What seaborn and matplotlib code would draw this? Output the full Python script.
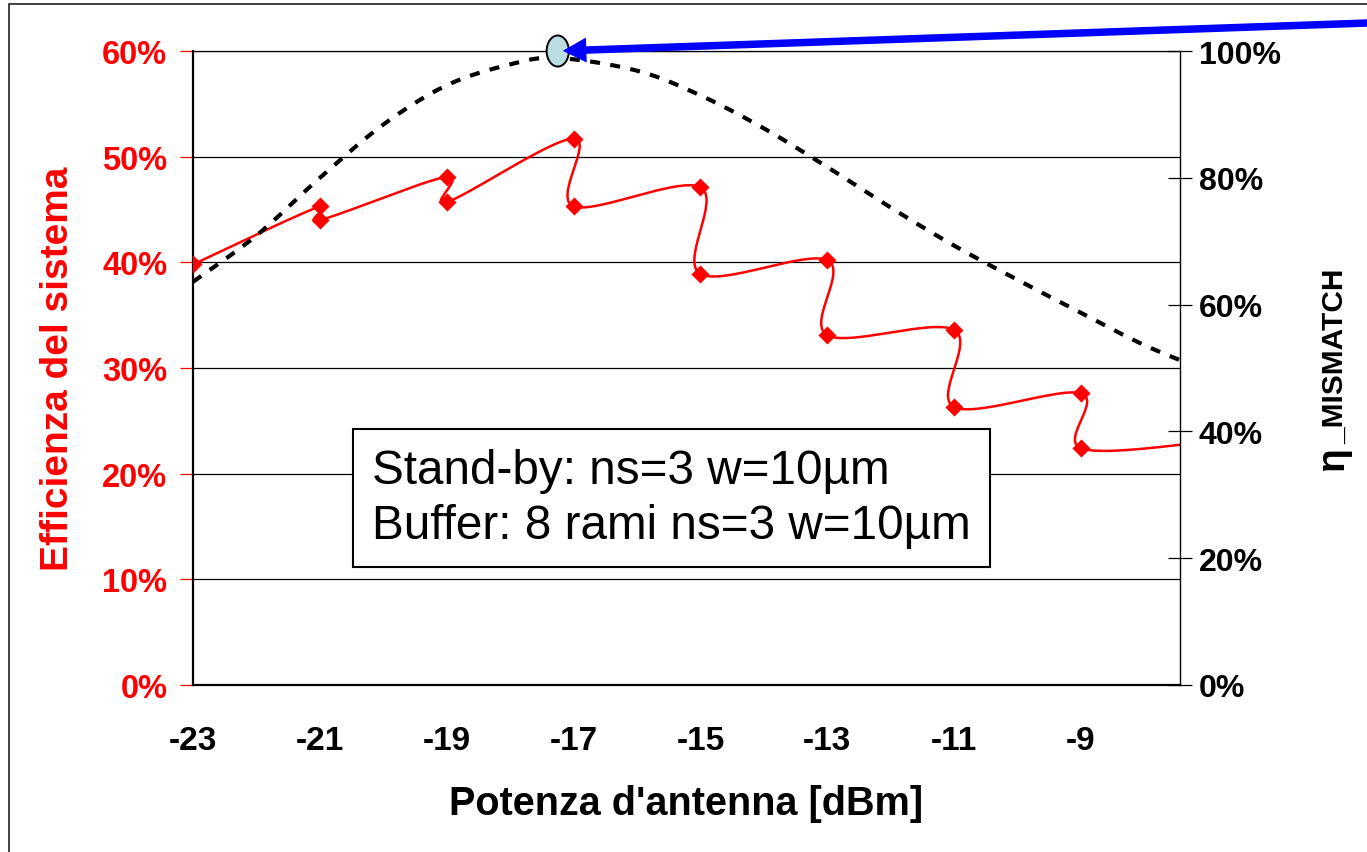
import numpy as np
import matplotlib
matplotlib.use('Agg')
import matplotlib.pyplot as plt
import seaborn as sns
from matplotlib.patches import Ellipse, Rectangle

# --- data ---
pot_dbm = [-23, -21, -21, -19, -19, -17, -17, -15, -15, -13, -13, -11, -11, -9, -9, -7]
eff_sistema = [39.8, 45.3, 44.0, 48.1, 45.7, 51.7, 45.3, 47.1, 38.9, 40.2, 33.1, 33.6, 26.3, 27.6, 22.4, 23.0]

eta_dbm = [-23, -22, -21, -20, -19, -18, -17.25, -16, -15, -14, -13, -12, -11, -10, -9, -8, -7]
eta_mismatch = [63.6, 70.9, 80.0, 88.4, 94.6, 97.9, 98.9, 96.9, 93.0, 87.8, 81.7, 75.3, 69.3, 63.9, 58.7, 53.6, 49.5]

x_ticks = [-23, -21, -19, -17, -15, -13, -11, -9]
left_ticks = [0, 10, 20, 30, 40, 50, 60]
right_ticks = [0, 20, 40, 60, 80, 100]
box_lines = ["Stand-by: ns=3 w=10µm", "Buffer: 8 rami ns=3 w=10µm"]

RED = '#FF0000'
BLUE = '#0000FF'


def excel_smooth(xs, ys, n=40):
    # bezier smoothing like the spreadsheet "smoothed line" option
    p = np.column_stack([xs, ys]).astype(float)
    p = np.vstack([p[0], p, p[-1]])
    t = np.linspace(0, 1, n)[:, None]
    out = []
    for i in range(1, len(p) - 2):
        p0, p1, p2, p3 = p[i - 1], p[i], p[i + 1], p[i + 2]
        c1 = p1 + (p2 - p0) / 6
        c2 = p2 - (p3 - p1) / 6
        seg = (1 - t) ** 3 * p1 + 3 * (1 - t) ** 2 * t * c1 + 3 * (1 - t) * t ** 2 * c2 + t ** 3 * p2
        out.append(seg if i == 1 else seg[1:])
    out = np.vstack(out)
    return out[:, 0], out[:, 1]


sns.set_style('white')
plt.rcParams['font.family'] = ['Liberation Sans', 'DejaVu Sans']
plt.rcParams['text.color'] = 'black'

fig = plt.figure(figsize=(13.67, 8.53), dpi=100)
ax = fig.add_axes([0.1412, 0.1958, 0.7220, 0.7432])

# red series: system efficiency
sx, sy = excel_smooth(pot_dbm, eff_sistema)
sns.lineplot(x=sx, y=sy, sort=False, estimator=None, color=RED, lw=1.8, ax=ax, zorder=3)
sns.scatterplot(x=pot_dbm, y=eff_sistema, marker='D', s=85, color=RED, linewidth=0, ax=ax, zorder=4)

ax.set_xlim(-23, -7.44)
ax.set_ylim(0, 60)
ax.set_xticks(x_ticks, labels=[str(v) for v in x_ticks])
ax.set_yticks(left_ticks, labels=[f'{v}%' for v in left_ticks])
ax.yaxis.grid(True, color='black', lw=0.9)
ax.xaxis.grid(False)
for side in ['left', 'bottom']:
    ax.spines[side].set_color('black')
    ax.spines[side].set_linewidth(1.6)
ax.spines['top'].set_color('black')
ax.spines['top'].set_linewidth(0.9)
ax.spines['right'].set_visible(False)

ax.tick_params(axis='y', direction='out', length=9.5, width=0.9, pad=9, colors=RED,
               labelsize=23.5)
ax.tick_params(axis='x', direction='out', length=10, width=0.9, pad=19, colors='black',
               labelsize=24)
for lab in ax.get_yticklabels() + ax.get_xticklabels():
    lab.set_fontweight('bold')

ax.set_xlabel("Potenza d'antenna [dBm]", fontsize=28.5, fontweight='bold', color='black')
ax.xaxis.set_label_coords(0.5, -0.186)
ax.xaxis.label.set_va('center')
ax.set_ylabel('Efficienza del sistema', fontsize=28, fontweight='bold', color=RED)
ax.yaxis.set_label_coords(-0.1368, 0.5)
ax.yaxis.label.set_va('center')

# right axis: eta mismatch
ax2 = ax.twinx()
ex, ey = excel_smooth(eta_dbm, eta_mismatch)
sns.lineplot(x=ex, y=ey, sort=False, estimator=None, color='black', lw=3.0,
             linestyle=(0, (2.4, 2.5)), ax=ax2, zorder=3)
ax2.set_xlim(-23, -7.44)
ax2.set_ylim(0, 100)
ax2.set_yticks(right_ticks, labels=[f'{v}%' for v in right_ticks])
ax2.tick_params(axis='y', direction='inout', length=17, width=0.9, pad=5, colors='black',
                labelsize=23)
for lab in ax2.get_yticklabels():
    lab.set_fontweight('bold')
for side in ['left', 'top', 'bottom']:
    ax2.spines[side].set_visible(False)
ax2.spines['right'].set_color('black')
ax2.spines['right'].set_linewidth(1.0)
ax2.set_ylabel('')

# peak marker + arrow
peak_x = eta_dbm[int(np.argmax(eta_mismatch))]
ax2.add_patch(Ellipse((peak_x, 100), width=0.35, height=4.9, facecolor='#BADDE3',
                      edgecolor='black', lw=1.4, clip_on=False, zorder=5))
ax2.annotate('', xy=(peak_x, 100), xycoords='data',
             xytext=(1.05, 0.9746), textcoords='figure fraction',
             arrowprops=dict(arrowstyle='simple,head_length=0.85,head_width=0.9,tail_width=0.27',
                             mutation_scale=20, fc=BLUE, ec='none', shrinkA=0, shrinkB=3.6),
             annotation_clip=False, zorder=6)

# right axis label: eta_MISMATCH
fig.text(1343 / 1367, 1 - 470 / 853, 'η', rotation=90, rotation_mode='anchor',
         ha='left', va='baseline', fontsize=28, fontweight='bold')
fig.text(1343 / 1367, 1 - 444 / 853, '_MISMATCH', rotation=90, rotation_mode='anchor',
         ha='left', va='baseline', fontsize=21.5, fontweight='bold')

# text box
fig.text(372 / 1367, 1 - 499 / 853, '\n'.join(box_lines), fontsize=34.3, ha='left', va='center',
         linespacing=1.27, color='black',
         bbox=dict(boxstyle='square,pad=0.4', fc='white', ec='black', lw=1.5), zorder=7)

# outer frame
fig.patches.append(Rectangle((9 / 1367, -0.1), 2.0, 1.1 - 5 / 853, transform=fig.transFigure,
                             fill=False, ec='#222222', lw=1.2))

fig.savefig('out.png', dpi=100)
